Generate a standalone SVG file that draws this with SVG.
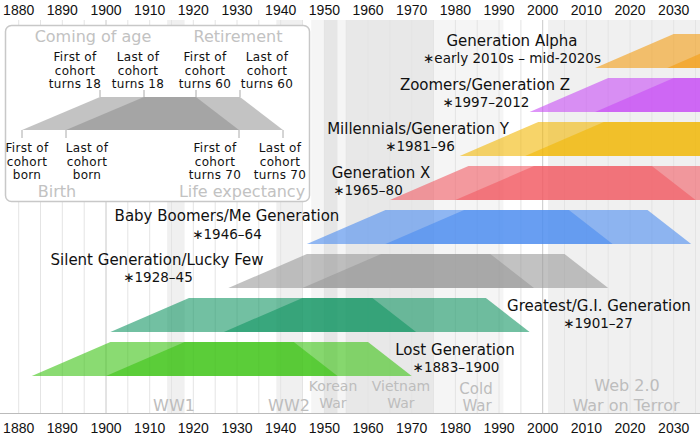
<svg xmlns="http://www.w3.org/2000/svg" width="700" height="438" viewBox="0 0 700 438">
<style>
.yr{font-family:"Liberation Sans",Arial,sans-serif;font-size:14px;fill:#111;text-anchor:middle}
.t{font-family:"DejaVu Sans",sans-serif;font-size:15px;fill:#111;text-anchor:middle}
.s{font-family:"DejaVu Sans",sans-serif;font-size:13.5px;fill:#111;text-anchor:middle}
.lg{font-family:"DejaVu Sans",sans-serif;font-size:12px;letter-spacing:0.3px;fill:#111;text-anchor:middle}
.gl{font-family:"DejaVu Sans",sans-serif;font-size:16px;fill:#c2c2c2;text-anchor:middle}
.war{font-family:"DejaVu Sans",sans-serif;font-size:16px;fill:#bdbdbd;text-anchor:middle}
.war14{font-family:"DejaVu Sans",sans-serif;font-size:14px;fill:#bdbdbd;text-anchor:middle}
.band{fill:#000;fill-opacity:0.06}
.bar{fill-opacity:0.6}
.tick{stroke:#aaa;stroke-width:1}
</style>
<rect width="700" height="438" fill="#fff"/>
<g id="bands">
<rect class="band" x="167.1" y="20" width="17.5" height="393"/>
<rect class="band" x="276.3" y="20" width="26.2" height="393"/>
<rect class="band" x="311.2" y="20" width="192.2" height="393" style="fill-opacity:0.04"/>
<rect class="band" x="324.4" y="20" width="13.1" height="393"/>
<rect class="band" x="346.2" y="20" width="87.3" height="393" style="fill-opacity:0.05"/>
<rect class="band" x="548" y="20" width="152" height="393" style="fill-opacity:0.06"/>
</g>
<g id="grid">
<path d="M18.7 20V413M40.5 20V413M62.3 20V413M84.2 20V413M127.8 20V413M149.7 20V413M171.5 20V413M193.3 20V413M215.2 20V413M237 20V413M258.8 20V413M280.7 20V413M302.5 20V413M324.4 20V413M346.2 20V413M368 20V413M389.9 20V413M411.7 20V413M433.5 20V413M455.4 20V413M477.2 20V413M499 20V413M520.9 20V413M564.5 20V413M586.4 20V413M608.2 20V413M630.1 20V413M651.9 20V413M673.7 20V413M695.5 20V413" stroke="#e4e4e4" stroke-width="1" fill="none"/>
<path d="M106 20V413M542.7 20V413" stroke="#c8c8c8" stroke-width="1" fill="none"/>
<line x1="0" y1="413.5" x2="700" y2="413.5" stroke="#bbb" stroke-width="1"/>
</g>
<g id="war-labels">
<text class="war" x="174" y="411">WW1</text>
<text class="war" x="289" y="411">WW2</text>
<text class="war14" x="333" y="391">Korean</text>
<text class="war14" x="333" y="408">War</text>
<text class="war14" x="401" y="391">Vietnam</text>
<text class="war14" x="401" y="408">War</text>
<text class="war" x="476" y="394" style="font-size:15px">Cold</text>
<text class="war" x="477" y="411" style="font-size:15px">War</text>
<text class="war" x="627" y="391">Web 2.0</text>
<text class="war" x="626" y="411">War on Terror</text>
</g>
<g id="axis">
<text class="yr" x="18.7" y="15">1880</text><text class="yr" x="62.3" y="15">1890</text><text class="yr" x="106" y="15">1900</text><text class="yr" x="149.7" y="15">1910</text><text class="yr" x="193.3" y="15">1920</text><text class="yr" x="237" y="15">1930</text><text class="yr" x="280.7" y="15">1940</text><text class="yr" x="324.4" y="15">1950</text><text class="yr" x="368" y="15">1960</text><text class="yr" x="411.7" y="15">1970</text><text class="yr" x="455.4" y="15">1980</text><text class="yr" x="499" y="15">1990</text><text class="yr" x="542.7" y="15">2000</text><text class="yr" x="586.4" y="15">2010</text><text class="yr" x="630.1" y="15">2020</text><text class="yr" x="673.7" y="15">2030</text>
<text class="yr" x="18.7" y="433">1880</text><text class="yr" x="62.3" y="433">1890</text><text class="yr" x="106" y="433">1900</text><text class="yr" x="149.7" y="433">1910</text><text class="yr" x="193.3" y="433">1920</text><text class="yr" x="237" y="433">1930</text><text class="yr" x="280.7" y="433">1940</text><text class="yr" x="324.4" y="433">1950</text><text class="yr" x="368" y="433">1960</text><text class="yr" x="411.7" y="433">1970</text><text class="yr" x="455.4" y="433">1980</text><text class="yr" x="499" y="433">1990</text><text class="yr" x="542.7" y="433">2000</text><text class="yr" x="586.4" y="433">2010</text><text class="yr" x="630.1" y="433">2020</text><text class="yr" x="673.7" y="433">2030</text>
</g>
<g id="gen-alpha">
<polygon class="bar" fill="#f39c12" points="595.1,68 673.7,34 800,34 800,68"/>
<polygon class="bar" fill="#f39c12" points="667.2,68 745.8,34 800,34 800,68"/>
<text class="t" x="512" y="46">Generation Alpha</text>
<text class="s" x="512" y="63">∗early 2010s – mid-2020s</text>
</g>
<g id="gen-z">
<polygon class="bar" fill="#c84cf5" points="529.6,112 608.2,78 800,78 800,112"/>
<polygon class="bar" fill="#c84cf5" points="595.1,112 673.7,78 800,78 800,112"/>
<text class="t" x="485" y="90">Zoomers/Generation Z</text>
<text class="s" x="486" y="107">∗1997–2012</text>
</g>
<g id="gen-y">
<polygon class="bar" fill="#f2b705" points="459.7,156 538.3,122 721.8,122 765.4,156"/>
<polygon class="bar" fill="#f2b705" points="525.2,156 603.8,122 800,122 800,156"/>
<text class="t" x="418" y="134">Millennials/Generation Y</text>
<text class="s" x="420" y="151">∗1981–96</text>
</g>
<g id="gen-x">
<polygon class="bar" fill="#f25c64" points="389.9,200 468.5,166 651.9,166 695.6,200"/>
<polygon class="bar" fill="#f25c64" points="455.4,200 534,166 717.4,166 761,200"/>
<text class="t" x="381" y="178">Generation X</text>
<text class="s" x="368" y="195">∗1965–80</text>
</g>
<g id="baby-boomers">
<polygon class="bar" fill="#4b8cf0" points="306.9,244 385.5,210 568.9,210 612.6,244"/>
<polygon class="bar" fill="#4b8cf0" points="385.5,244 464.1,210 647.5,210 691.2,244"/>
<text class="t" x="227" y="221">Baby Boomers/Me Generation</text>
<text class="s" x="227" y="239">∗1946–64</text>
</g>
<g id="silent">
<polygon class="bar" fill="#999" points="228.3,288 306.9,254 490.3,254 534,288"/>
<polygon class="bar" fill="#999" points="302.5,288 381.1,254 564.5,254 608.2,288"/>
<text class="t" x="157" y="265">Silent Generation/Lucky Few</text>
<text class="s" x="158" y="282">∗1928–45</text>
</g>
<g id="greatest">
<polygon class="bar" fill="#149664" points="110.4,332 189,298 372.4,298 416.1,332"/>
<polygon class="bar" fill="#149664" points="223.9,332 302.5,298 485.9,298 529.6,332"/>
<text class="t" x="599" y="311">Greatest/G.I. Generation</text>
<text class="s" x="598" y="328">∗1901–27</text>
</g>
<g id="lost">
<polygon class="bar" fill="#3cc314" points="31.8,376 110.4,342 293.8,342 337.5,376"/>
<polygon class="bar" fill="#3cc314" points="106,376 184.6,342 368,342 411.7,376"/>
<text class="t" x="455" y="355">Lost Generation</text>
<text class="s" x="456" y="372">∗1883–1900</text>
</g>
<g id="legend">
<rect x="5.5" y="25.5" width="304" height="176" rx="6" fill="#fff" stroke="#c8c8c8" stroke-width="1.5"/>
<polygon fill="#888" fill-opacity="0.5" points="22,130 100,97 196,97 239,130"/>
<polygon fill="#888" fill-opacity="0.5" points="66,130 144,97 240,97 283,130"/>
<text class="gl" x="93" y="42">Coming of age</text>
<text class="gl" x="238" y="42">Retirement</text>
<text class="gl" x="57" y="197">Birth</text>
<text class="gl" x="242" y="197">Life expectancy</text>
<text class="lg" x="75" y="61">First of</text><text class="lg" x="75" y="74.5">cohort</text><text class="lg" x="75" y="88">turns 18</text>
<text class="lg" x="138" y="61">Last of</text><text class="lg" x="138" y="74.5">cohort</text><text class="lg" x="138" y="88">turns 18</text>
<text class="lg" x="205" y="61">First of</text><text class="lg" x="205" y="74.5">cohort</text><text class="lg" x="205" y="88">turns 60</text>
<text class="lg" x="267" y="61">Last of</text><text class="lg" x="267" y="74.5">cohort</text><text class="lg" x="267" y="88">turns 60</text>
<text class="lg" x="27" y="152">First of</text><text class="lg" x="27" y="165.5">cohort</text><text class="lg" x="27" y="179">born</text>
<text class="lg" x="87" y="152">Last of</text><text class="lg" x="87" y="165.5">cohort</text><text class="lg" x="87" y="179">born</text>
<text class="lg" x="215" y="152">First of</text><text class="lg" x="215" y="165.5">cohort</text><text class="lg" x="215" y="179">turns 70</text>
<text class="lg" x="280" y="152">Last of</text><text class="lg" x="280" y="165.5">cohort</text><text class="lg" x="280" y="179">turns 70</text>
</g>
<g id="connectors">
<path class="tick" d="M100 90V97M144 90V97M196 90V97M240 90V97M22 130V138M66 130V138M239 130V138M283 130V138"/>
</g>
</svg>
